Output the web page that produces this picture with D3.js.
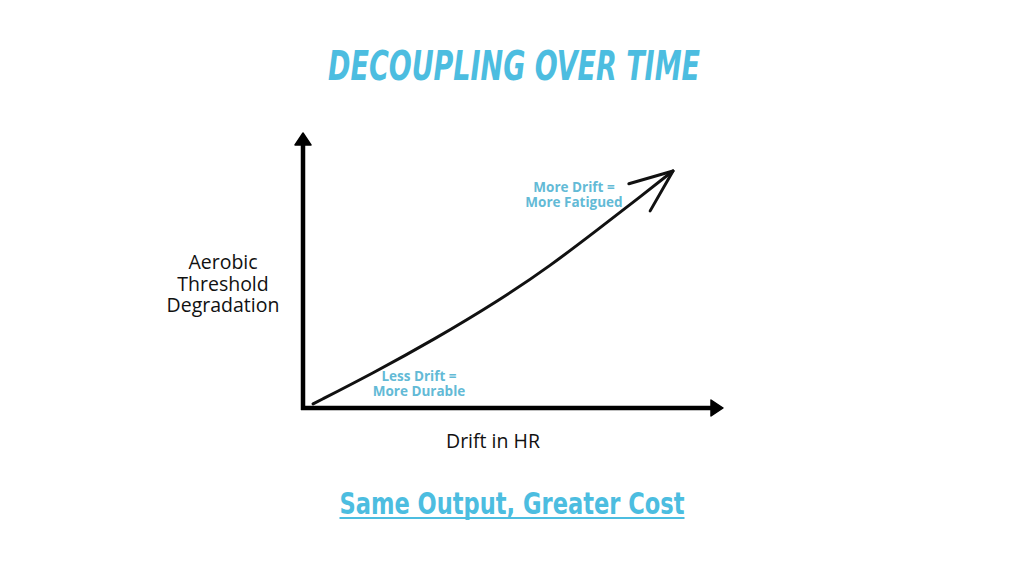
<!DOCTYPE html>
<html>
<head>
<meta charset="utf-8">
<script src="https://cdn.jsdelivr.net/npm/d3@7"></script>
<style>
  body { margin: 0; background: #fff; }
  svg { display: block; }
</style>
</head>
<body>
<div id="chart"></div>
<script>
var svgWidth = 1024;
var svgHeight = 576;

// curve, both axes on a 0-10 scale
var driftInHR = [0.24, 1.67, 3.1, 4.69, 5.88, 7.07, 8.02, 8.81];
var degradation = [0.15, 1.27, 2.47, 3.93, 5.16, 6.55, 7.67, 8.62];

var titleText = "DECOUPLING OVER TIME";
var subtitleText = "Same Output, Greater Cost";
var xLabel = "Drift in HR";
var yLabelLines = ["Aerobic", "Threshold", "Degradation"];
var lowNote = ["Less Drift =", "More Durable"];
var highNote = ["More Drift =", "More Fatigued"];

var blue = "#4cbde0";
var noteBlue = "#63bad6";

var svg = d3.select("#chart")
    .append("svg")
    .attr("width", svgWidth)
    .attr("height", svgHeight);

var xScale = d3.scaleLinear().domain([0, 10]).range([303, 723]);
var yScale = d3.scaleLinear().domain([0, 10]).range([408, 133]);

// axes drawn as plain arrows
var axisGroup = svg.append("g");
axisGroup.append("line")
  .attr("x1", xScale(0)).attr("y1", yScale(0) + 2)
  .attr("x2", xScale(0)).attr("y2", yScale(10) + 10)
  .attr("stroke", "#000").attr("stroke-width", 4.5);
axisGroup.append("path")
  .attr("d", `M${xScale(0)},${yScale(10)} L${xScale(0) - 8},${yScale(10) + 12} L${xScale(0) + 8},${yScale(10) + 12} Z`)
  .attr("fill", "#000").attr("stroke", "#000").attr("stroke-width", 1.5).attr("stroke-linejoin", "round");

axisGroup.append("line")
  .attr("x1", xScale(0) - 2).attr("y1", yScale(0))
  .attr("x2", xScale(10) - 10).attr("y2", yScale(0))
  .attr("stroke", "#000").attr("stroke-width", 4.5);
axisGroup.append("path")
  .attr("d", `M${xScale(10)},${yScale(0)} L${xScale(10) - 12},${yScale(0) - 8} L${xScale(10) - 12},${yScale(0) + 8} Z`)
  .attr("fill", "#000").attr("stroke", "#000").attr("stroke-width", 1.5).attr("stroke-linejoin", "round");

// the drift curve
var points = driftInHR.map((d, i) => [xScale(d), yScale(degradation[i])]);
var line = d3.line().curve(d3.curveBasis);
svg.append("path")
  .attr("d", line(points))
  .attr("fill", "none")
  .attr("stroke", "#111")
  .attr("stroke-width", 3)
  .attr("stroke-linecap", "round");

// open arrowhead at the end of the curve
var tip = points[points.length - 1];
var prev = points[points.length - 2];
var back = Math.atan2(prev[1] - tip[1], prev[0] - tip[0]);
var headLen = 46;
var spread = 22 * Math.PI / 180;
var arms = [back + spread, back - spread].map(a => [tip[0] + headLen * Math.cos(a), tip[1] + headLen * Math.sin(a)]);
svg.append("path")
  .attr("d", `M${arms[0][0]},${arms[0][1]} L${tip[0]},${tip[1]} L${arms[1][0]},${arms[1][1]}`)
  .attr("fill", "none")
  .attr("stroke", "#111")
  .attr("stroke-width", 3)
  .attr("stroke-linecap", "round")
  .attr("stroke-linejoin", "round");

// title
svg.append("text")
  .attr("x", 514).attr("y", 80)
  .attr("text-anchor", "middle")
  .attr("font-family", "'Liberation Sans Narrow', 'DejaVu Sans Condensed', 'Liberation Sans', sans-serif")
  .attr("font-weight", "bold")
  .attr("font-style", "italic")
  .attr("font-size", "41px")
  .attr("textLength", 372)
  .attr("lengthAdjust", "spacingAndGlyphs")
  .attr("fill", blue)
  .text(titleText);

// axis labels
svg.append("text")
  .attr("x", 493).attr("y", 448)
  .attr("text-anchor", "middle")
  .attr("font-family", "'Open Sans', 'Noto Sans', sans-serif")
  .attr("font-size", "19.5px")
  .attr("fill", "#111")
  .text(xLabel);

svg.append("text")
  .attr("text-anchor", "middle")
  .attr("font-family", "'Open Sans', 'Noto Sans', sans-serif")
  .attr("font-size", "19.5px")
  .attr("fill", "#111")
  .selectAll("tspan")
  .data(yLabelLines)
  .enter()
  .append("tspan")
  .attr("x", 223)
  .attr("y", (d, i) => 269 + i * 21.5)
  .text(d => d);

// notes beside the curve
function addNote(lines, cx, y0) {
  svg.append("text")
    .attr("text-anchor", "middle")
    .attr("font-family", "'Open Sans', 'Noto Sans', sans-serif")
    .attr("font-weight", "bold")
    .attr("font-size", "13.5px")
    .attr("fill", noteBlue)
    .selectAll("tspan")
    .data(lines)
    .enter()
    .append("tspan")
    .attr("x", cx)
    .attr("y", (d, i) => y0 + i * 14.5)
    .text(d => d);
}
addNote(lowNote, 419, 381);
addNote(highNote, 574, 192);

// underlined subtitle
svg.append("text")
  .attr("x", 512).attr("y", 514)
  .attr("text-anchor", "middle")
  .attr("font-family", "'Liberation Sans Narrow', 'DejaVu Sans Condensed', 'Liberation Sans', sans-serif")
  .attr("font-weight", "bold")
  .attr("font-size", "31px")
  .attr("textLength", 345)
  .attr("lengthAdjust", "spacingAndGlyphs")
  .attr("fill", blue)
  .text(subtitleText);

svg.append("line")
  .attr("x1", 512 - 345 / 2).attr("x2", 512 + 345 / 2)
  .attr("y1", 518).attr("y2", 518)
  .attr("stroke", blue)
  .attr("stroke-width", 2);
</script>
</body>
</html>
